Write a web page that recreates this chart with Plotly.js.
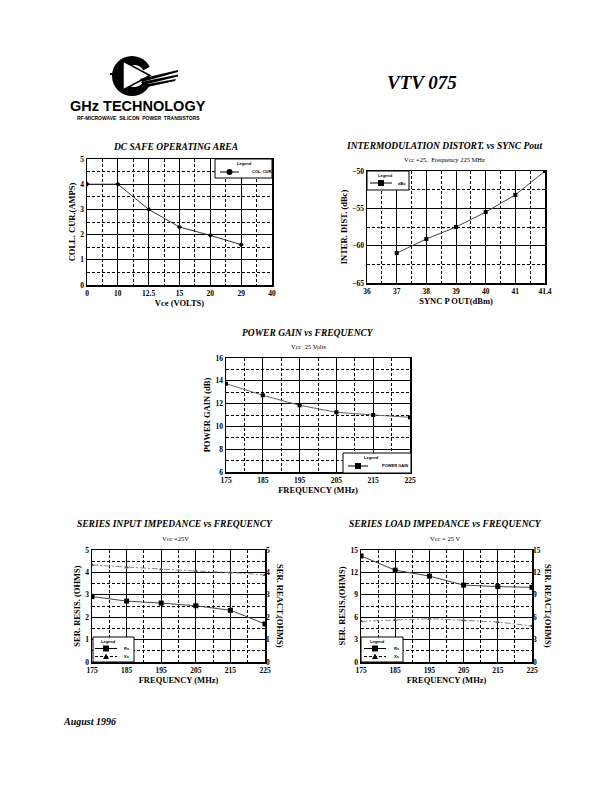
<!DOCTYPE html>
<html><head><meta charset="utf-8">
<script src="https://cdn.plot.ly/plotly-3.0.1.min.js"></script>
<style>html,body{margin:0;padding:0;background:#fff}#chart{width:612px;height:792px}</style>
</head><body><div id="chart"></div>
<script>
// ---------- DATA ----------
const socVceTicks = ['0','10','12.5','15','20','29','40'];
const socVcePoints = ['0','10','12.5','15','20','29'];
const socCurrent = [4.0, 4.0, 3.0, 2.3, 1.97, 1.6];

const imdPoutTicks = ['36','37','38','39','40','41','41.4'];
const imdPoutPoints = ['37','38','39','40','41','41.4'];
const imdDbc = [-61.0, -59.1, -57.5, -55.5, -53.2, -50.0];

const freqMHz = [175, 185, 195, 205, 215, 225];
const powerGainDb = [13.75, 12.73, 11.85, 11.24, 11.0, 10.8];

const inputRs = [2.92, 2.72, 2.63, 2.51, 2.31, 1.70];
const inputXs = [4.33, 4.23, 4.14, 4.06, 4.0, 3.88];

const loadRs = [14.2, 12.3, 11.5, 10.3, 10.1, 10.0];
const loadXs = [5.45, 5.63, 5.8, 5.59, 5.36, 4.82];

// ---------- HELPERS ----------
const W = 612, H = 792;
const X = p => p / W, Y = p => 1 - p / H;
const SERIF = 'Liberation Serif, Times New Roman, serif';
const SANS = 'Liberation Sans, Arial, sans-serif';
const TICKF = {family: SERIF, size: 7.5, color: '#000', weight: 'bold'};
const AXTF = {family: SERIF, size: 8.5, color: '#000', weight: 'bold'};
const GRIDDASH = '3px,2px';

function axis(domain, range, dtick, anchor, extra) {
  const half = dtick / 2;
  return Object.assign({
    domain: domain, range: range, anchor: anchor,
    tickmode: 'linear', tick0: range[0], dtick: dtick,
    showline: true, mirror: true, linecolor: '#000', linewidth: 1.5,
    showgrid: true, gridcolor: '#000', gridwidth: 1,
    zeroline: false, ticks: '', tickfont: TICKF, fixedrange: true,
    minor: {tickmode: 'linear', tick0: range[0] + half, dtick: dtick, showgrid: true,
            gridcolor: '#000', gridwidth: 1, griddash: GRIDDASH}
  }, extra || {});
}
function catAxis(domain, labels, anchor, extra) {
  return axis(domain, [0, labels.length - 1], 1, anchor, Object.assign({
    tickmode: 'array', tickvals: labels.map((_, i) => i), ticktext: labels
  }, extra || {}));
}
function rightAxis(over, anchor, range, dtick) {
  return {overlaying: over, anchor: anchor, side: 'right', range: range,
    tickmode: 'linear', tick0: range[0], dtick: dtick, showgrid: false, zeroline: false,
    showline: false, ticks: '', tickfont: TICKF, fixedrange: true};
}
function title(t) { return {text: t, font: AXTF, standoff: 3}; }

// ---------- TRACES ----------
const traces = [
  {x: socVcePoints.map(v => socVceTicks.indexOf(v)), y: socCurrent, xaxis: 'x', yaxis: 'y',
   name: 'COL. CUR.', mode: 'lines+markers', line: {color: '#333', width: 1},
   marker: {symbol: 'diamond', size: 4, color: '#000'}},
  {x: imdPoutPoints.map(v => imdPoutTicks.indexOf(v)), y: imdDbc, xaxis: 'x2', yaxis: 'y2',
   name: 'dBc', mode: 'lines+markers', line: {color: '#444', width: 1},
   marker: {symbol: 'square', size: 4, color: '#000'}},
  {x: freqMHz, y: powerGainDb, xaxis: 'x3', yaxis: 'y3', name: 'POWER GAIN',
   mode: 'lines+markers', line: {color: '#666', width: 1},
   marker: {symbol: 'square', size: 4, color: '#000'}},
  {x: freqMHz, y: inputRs, xaxis: 'x4', yaxis: 'y4', name: 'Rs',
   mode: 'lines+markers', line: {color: '#444', width: 1},
   marker: {symbol: 'square', size: 5, color: '#000'}},
  {x: freqMHz, y: inputXs, xaxis: 'x4', yaxis: 'y6', name: 'Xs',
   mode: 'lines+markers', line: {color: '#888', width: 1, dash: '6px,2px,2px,2px'},
   marker: {symbol: 'triangle-up', size: 4, color: '#555'}},
  {x: freqMHz, y: loadRs, xaxis: 'x5', yaxis: 'y5', name: 'Rs',
   mode: 'lines+markers', line: {color: '#444', width: 1},
   marker: {symbol: 'square', size: 5, color: '#000'}},
  {x: freqMHz, y: loadXs, xaxis: 'x5', yaxis: 'y7', name: 'Xs',
   mode: 'lines+markers', line: {color: '#888', width: 1, dash: '6px,2px,2px,2px'},
   marker: {symbol: 'triangle-up', size: 4, color: '#555'}}
];

// ---------- SHAPES / ANNOTATIONS ----------
const shapes = [];
const annotations = [];
function txt(t, x, y, font, extra) {
  annotations.push(Object.assign({text: t, x: X(x), y: Y(y), xref: 'paper', yref: 'paper',
    showarrow: false, xanchor: 'center', yanchor: 'middle', font: font}, extra || {}));
}
function rect(x0, y0, x1, y1, line, fill) {
  shapes.push({type: 'rect', xref: 'paper', yref: 'paper', x0: X(x0), x1: X(x1), y0: Y(y1), y1: Y(y0),
    line: line, fillcolor: fill});
}
function circ(cx, cy, r, fill, line) {
  shapes.push({type: 'circle', xref: 'paper', yref: 'paper', x0: X(cx - r), x1: X(cx + r),
    y0: Y(cy + r), y1: Y(cy - r), fillcolor: fill, line: line || {width: 0}});
}
function poly(pts, fill, line) {
  shapes.push({type: 'path', xref: 'paper', yref: 'paper',
    path: 'M' + pts.map(p => X(p[0]) + ',' + Y(p[1])).join(' L') + ' Z',
    fillcolor: fill, line: line || {width: 0}});
}
function seg(x0, y0, x1, y1, color, width, dash) {
  shapes.push({type: 'line', xref: 'paper', yref: 'paper', x0: X(x0), y0: Y(y0), x1: X(x1), y1: Y(y1),
    line: {color: color, width: width, dash: dash || 'solid'}});
}
const LEGF = {family: SANS, size: 4, color: '#000', weight: 'bold'};
function legendEntry(lx0, lx1, y, sym, lineColor, dash, label, tx) {
  seg(lx0, y, lx1, y, lineColor, 1, dash);
  const mx = (lx0 + lx1) / 2;
  if (sym === 'circle') circ(mx, y, 3, '#000');
  else if (sym === 'square') rect(mx - 3, y - 3, mx + 3, y + 3, {width: 0}, '#000');
  else poly([[mx - 3, y + 2.5], [mx + 3, y + 2.5], [mx, y - 3]], '#000');
  txt(label, tx, y, LEGF, {xanchor: 'left'});
}

// Logo
circ(132, 76, 20, '#000');
circ(134, 76, 11, '#fff');
poly([[134, 76], [156, 63], [156, 89]], '#fff');
poly([[123, 61], [123, 90], [150, 75.5]], '#fff', {color: '#000', width: 1.5});
poly([[140, 79], [178, 70], [178, 72], [142, 82]], '#000');
poly([[141, 82], [178, 74.5], [178, 76.5], [143, 85]], '#000');
poly([[142, 85], [176, 79], [175, 81], [143, 88]], '#000');
seg(110, 74, 119, 74, '#000', 2);
txt('GHz TECHNOLOGY', 138, 106, {family: SANS, size: 14.5, color: '#000', weight: 'bold'});
txt('RF-MICROWAVE  SILICON  POWER  TRANSISTORS', 138, 118, {family: SANS, size: 5, color: '#000', weight: 'bold'});
txt('VTV 075', 422, 83, {family: SERIF, size: 19, color: '#000', weight: 'bold', style: 'italic'});
txt('August 1996', 61, 721, {family: SERIF, size: 10, color: '#000', weight: 'bold', style: 'italic'}, {xanchor: 'left'});

// Chart titles
const TT = {family: SERIF, size: 9.5, color: '#000', weight: 'bold', style: 'italic'};
const ST = {family: SERIF, size: 6.5, color: '#000'};
txt('DC SAFE OPERATING AREA', 175, 147, TT);
txt('INTERMODULATION DISTORT. vs SYNC Pout', 444, 146, TT);
txt('Vcc =25,  Frequency 225 MHz', 444, 160, ST);
txt('POWER GAIN vs FREQUENCY', 308, 333, TT);
txt('Vcc  25 Volts', 308, 346, ST);
txt('SERIES INPUT IMPEDANCE vs FREQUENCY', 175, 524, TT);
txt('Vcc =25V', 175, 538, ST);
txt('SERIES LOAD IMPEDANCE vs FREQUENCY', 445, 524, TT);
txt('Vcc = 25 V', 445, 538, ST);
// right axis titles (read top to bottom)
txt('SER. REACT.(OHMS)', 280, 606, AXTF, {textangle: 90});
txt('SER. REACT.(OHMS)', 548, 606, AXTF, {textangle: 90});

// Legends
rect(215, 159, 272, 178, {color: '#000', width: 1}, '#fff');
txt('Legend', 244, 163.5, LEGF);
legendEntry(220, 239, 172, 'circle', '#000', 'solid', 'COL. CUR.', 250);

rect(367, 171, 409, 190, {color: '#000', width: 1}, '#fff');
txt('Legend', 385, 175, LEGF);
legendEntry(370, 392, 183, 'square', '#000', 'solid', 'dBc', 396);

rect(343, 453, 411, 473, {color: '#000', width: 1}, '#fff');
txt('Legend', 372, 457, LEGF);
legendEntry(348, 368, 466, 'square', '#000', 'solid', 'POWER GAIN', 380);

rect(93, 637, 134, 662, {color: '#000', width: 1}, '#fff');
txt('Legend', 108, 641, LEGF);
legendEntry(95, 117, 648.5, 'square', '#000', 'solid', 'Rs', 122);
legendEntry(95, 117, 656.5, 'triangle', '#000', '3px,2px', 'Xs', 122);

rect(361, 637, 403, 662, {color: '#000', width: 1}, '#fff');
txt('Legend', 377, 641, LEGF);
legendEntry(364, 386, 648.5, 'square', '#000', 'solid', 'Rs', 392);
legendEntry(364, 386, 656.5, 'triangle', '#000', '3px,2px', 'Xs', 392);

// ---------- LAYOUT ----------
const layout = {
  width: W, height: H, margin: {l: 0, r: 0, t: 0, b: 0},
  paper_bgcolor: '#fff', plot_bgcolor: '#fff', showlegend: false,
  font: {family: SERIF, color: '#000'},
  xaxis: catAxis([X(87), X(272)], socVceTicks, 'y', {title: title('Vce (VOLTS)')}),
  yaxis: axis([Y(285), Y(159)], [0, 5], 1, 'x', {title: title('COLL. CUR.(AMPS)')}),
  xaxis2: catAxis([X(367), X(545)], imdPoutTicks, 'y2', {title: title('SYNC P OUT(dBm)')}),
  yaxis2: axis([Y(283), Y(171)], [-65, -50], 5, 'x2', {title: title('INTER. DIST. (dBc)')}),
  xaxis3: axis([X(226), X(410)], [175, 225], 10, 'y3', {title: title('FREQUENCY (MHz)')}),
  yaxis3: axis([Y(472), Y(358)], [6, 16], 2, 'x3', {title: title('POWER GAIN (dB)')}),
  xaxis4: axis([X(92), X(265)], [175, 225], 10, 'y4', {title: title('FREQUENCY (MHz)')}),
  yaxis4: axis([Y(662), Y(550)], [0, 5], 1, 'x4', {title: title('SER. RESIS. (OHMS)')}),
  yaxis6: rightAxis('y4', 'x4', [0, 5], 1),
  xaxis5: axis([X(361), X(532)], [175, 225], 10, 'y5', {title: title('FREQUENCY (MHz)')}),
  yaxis5: axis([Y(662), Y(550)], [0, 15], 3, 'x5', {title: title('SER. RESIS.(OHMS)')}),
  yaxis7: rightAxis('y5', 'x5', [0, 15], 3),
  shapes: shapes, annotations: annotations
};

Plotly.newPlot('chart', traces, layout, {staticPlot: true, displayModeBar: false});
</script>
</body></html>
